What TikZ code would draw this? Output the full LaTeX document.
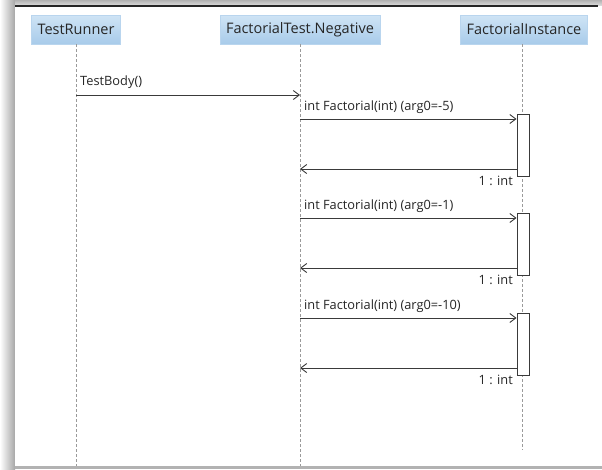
\documentclass[tikz,border=0pt]{standalone}
\usepackage{fontspec}
\setmainfont{Open Sans}
\usetikzlibrary{arrows.meta,calc}
\definecolor{ink}{HTML}{262626}
\definecolor{wire}{HTML}{3A3A3A}
\definecolor{life}{HTML}{9A9A9A}
\definecolor{headtop}{HTML}{CFE4F5}
\definecolor{headbot}{HTML}{A8CBEA}
\definecolor{headline}{HTML}{B9D5EE}
\tikzset{
  header/.style={draw=headline, top color=headtop, bottom color=headbot,
    minimum height=29pt, inner xsep=6pt, text=ink, font=\fontsize{14.5}{16}\selectfont},
  lifeline/.style={draw=life, line width=0.9pt, dash pattern=on 3pt off 2pt},
  msg/.style={draw=wire, line width=0.9pt, -{Straight Barb[length=6pt,width=9pt,line width=0.9pt]}},
  actbox/.style={draw=wire, fill=white, line width=0.9pt, minimum width=12pt, inner sep=0pt},
  lbl/.style={text=ink, font=\fontsize{12.8}{14}\selectfont, inner sep=0pt}
}
\begin{document}
\begin{tikzpicture}[x=1pt,y=-1pt]
  \useasboundingbox (0,0) rectangle (602,469);
  % sheet with its frame and shadows
  \fill[white] (0,0) rectangle (602,469);
  \shade[left color=white, right color=black!35] (0,0) rectangle (15,469);
  \shade[top color=black!30, bottom color=black!15] (15,0) rectangle (602,5);
  \fill[white] (15,7) rectangle (602,466);
  \draw[black!85, line width=1.2pt] (15,6) -- (598,6);
  \fill[black!30] (15,466) rectangle (602,469);

  % participants
  \node[header] (tr) at (76,29.5) {TestRunner};
  \node[header] (ft) at (300,29.5) {FactorialTest.Negative};
  \node[header] (fi) at (524,29.5) {FactorialInstance};

  \coordinate (trend) at (76,466);
  \coordinate (ftend) at (300,466);
  \coordinate (fiend) at (522,450);
  \draw[lifeline] (tr.south -| trend) -- (trend);
  \draw[lifeline] (ft.south -| ftend) -- (ftend);
  \draw[lifeline] (fi.south -| fiend) -- (fiend);

  % TestBody call
  \coordinate (tb) at (76,95);
  \draw[msg] (tb) -- (tb -| ftend);
  \node[lbl, anchor=south west] at (80,88.5) {TestBody()};

  % three Factorial calls with their activations
  \foreach \i/\y/\arg in {1/119/-5, 2/218/-1, 3/318/-10} {
    \node[actbox, minimum height=62pt] (act\i) at (523,{\y+26}) {};
    \coordinate (call\i) at (300,\y);
    \coordinate (ret\i) at (300,{\y+50});
    \draw[msg] (call\i) -- (call\i -| act\i.west);
    \draw[msg] (ret\i -| act\i.west) -- (ret\i);
    \node[lbl, anchor=south west] at (304,{\y-5}) {int Factorial(int) (arg0=\arg)};
    \node[lbl, anchor=east] at (513,{\y+62}) {1 : int};
  }
\end{tikzpicture}
\end{document}
